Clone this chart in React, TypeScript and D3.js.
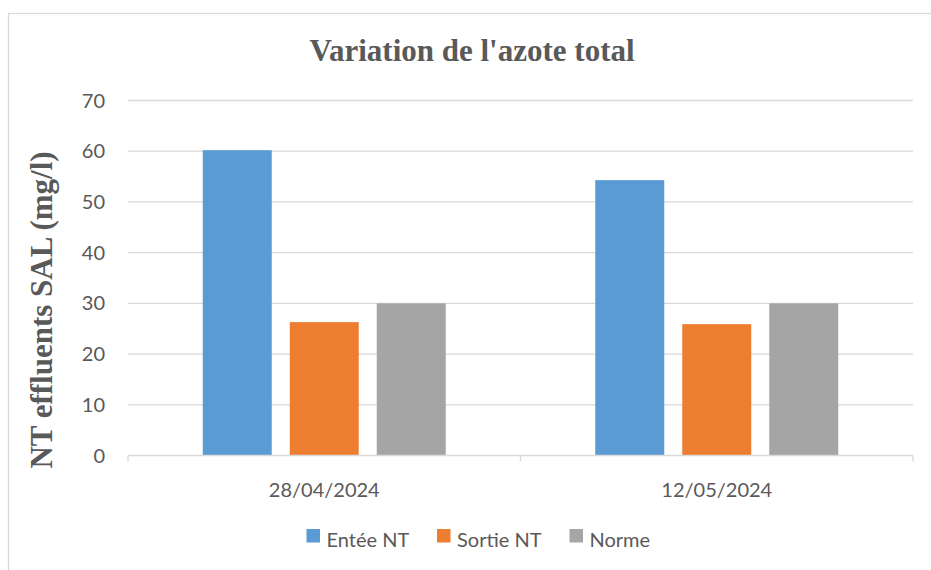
import React from "react";
import * as d3 from "d3";

const categories = ["28/04/2024", "12/05/2024"];
const seriesNames = ["Entée NT", "Sortie NT", "Norme"];
const entreeNT = [60.2, 54.3];
const sortieNT = [26.3, 25.9];
const norme = [30, 30];
const yTicks = [0, 10, 20, 30, 40, 50, 60, 70];

const seriesValues = [entreeNT, sortieNT, norme];
const colors = ["#5b9bd5", "#ed7d31", "#a5a5a5"];

const W = 931;
const H = 570;
const plotLeft = 128;
const plotRight = 913;
const plotTop = 100.5;
const plotBottom = 455.5;
const textColor = "#595959";
const gridColor = "#d9d9d9";
const sans = "Lato, 'Open Sans', sans-serif";
const serif = "'Liberation Serif', 'DejaVu Serif', serif";

export default function App() {
  const x = d3.scaleBand<string>().domain(categories).range([plotLeft, plotRight]).padding(0);
  const bw = x.bandwidth();
  const outer = 74.75;
  const xs = d3
    .scaleBand<string>()
    .domain(seriesNames)
    .range([outer, bw - outer])
    .paddingInner(18 / 87)
    .paddingOuter(0);
  const y = d3.scaleLinear().domain([0, 70]).range([plotBottom, plotTop]);

  const legendX = [306.5, 437, 569.5];

  return (
    <svg
      width={W}
      height={H}
      style={{ position: "absolute", left: 0, top: 0, background: "#fff" }}
    >
      <rect x={0} y={0} width={W} height={H} fill="#fff" />
      <rect x={8.5} y={13.5} width={W + 20} height={H + 20} fill="none" stroke={gridColor} strokeWidth={1.3} />

      <text
        x={472}
        y={61}
        textAnchor="middle"
        fontFamily={serif}
        fontWeight="bold"
        fontSize={31}
        fill={textColor}
      >
        Variation de l'azote total
      </text>

      {yTicks.map((t) => (
        <g key={t}>
          {t !== 0 && (
            <line x1={plotLeft} x2={plotRight} y1={y(t)} y2={y(t)} stroke={gridColor} strokeWidth={1.3} />
          )}
          <text
            x={105}
            y={y(t)}
            dy="0.35em"
            textAnchor="end"
            fontFamily={sans}
            fontSize={20}
            fill={textColor}
          >
            {t}
          </text>
        </g>
      ))}

      {categories.map((c, ci) => (
        <g key={c}>
          {seriesNames.map((s, si) => {
            const v = seriesValues[si][ci];
            return (
              <rect
                key={s}
                x={(x(c) as number) + (xs(s) as number)}
                y={y(v)}
                width={xs.bandwidth()}
                height={y(0) - y(v)}
                fill={colors[si]}
              />
            );
          })}
          <text
            x={(x(c) as number) + bw / 2}
            y={497}
            textAnchor="middle"
            fontFamily={sans}
            fontSize={20}
            fill={textColor}
          >
            {c}
          </text>
        </g>
      ))}

      <line x1={plotLeft} x2={plotRight} y1={plotBottom} y2={plotBottom} stroke={gridColor} strokeWidth={1.3} />
      {[...categories.map((c) => x(c) as number), plotRight].map((tx, i) => (
        <line key={i} x1={tx} x2={tx} y1={plotBottom} y2={plotBottom + 6} stroke={gridColor} strokeWidth={1.3} />
      ))}

      <text
        transform={`translate(52, 310) rotate(-90)`}
        textAnchor="middle"
        fontFamily={serif}
        fontWeight="bold"
        fontSize={31}
        fill={textColor}
      >
        NT effluents SAL (mg/l)
      </text>

      {seriesNames.map((s, i) => (
        <g key={s} transform={`translate(${legendX[i]}, 529)`}>
          <rect x={0} y={0} width={13.5} height={13.5} fill={colors[i]} />
          <text x={20} y={18} fontFamily={sans} fontSize={20} fill={textColor}>
            {s}
          </text>
        </g>
      ))}
    </svg>
  );
}
